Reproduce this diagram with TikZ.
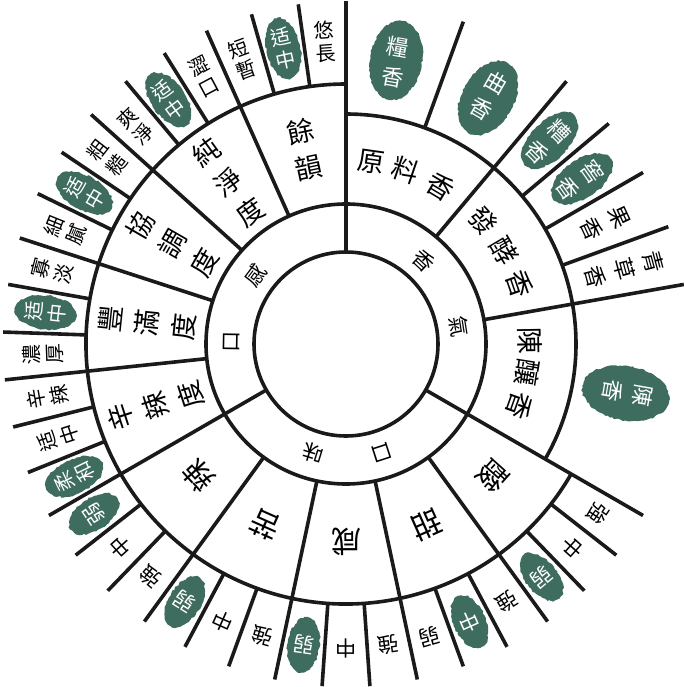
\documentclass[tikz,border=0pt]{standalone}
\usepackage{fontspec}
\usepackage{tikz}
\usetikzlibrary{decorations.pathmorphing}
\newfontfamily\cjk{Noto Sans CJK TC}
\definecolor{inkgreen}{RGB}{62,108,94}
\definecolor{inkline}{RGB}{26,26,26}

\begin{document}
\begin{tikzpicture}[
    x=1pt, y=1pt,
    ring/.style={draw=inkline, line width=3.6pt},
    spoke/.style={draw=inkline, line width=3.6pt},
    blob/.style={fill=inkgreen, decorate, decoration={random steps, segment length=2.5pt, amplitude=0.9pt}},
    core/.style={font=\cjk\fontsize{21}{21}\selectfont, inner sep=0pt},
    branch/.style={font=\cjk\fontsize{27}{37}\selectfont, inner sep=0pt, align=center},
    taste/.style={font=\cjk\fontsize{30}{30}\selectfont, inner sep=0pt},
    leaf/.style={font=\cjk\fontsize{20}{23}\selectfont, inner sep=0pt, align=center},
    bigleaf/.style={font=\cjk\fontsize{22}{30}\selectfont, inner sep=0pt, align=center},
    tip/.style={font=\cjk\fontsize{21}{21}\selectfont, inner sep=0pt}
]
    \useasboundingbox (-346,-343) rectangle (338,344);

    % Rings
    \draw[ring] (0,0) circle (92);
    \draw[ring] (0,0) circle (140);
    \draw[ring] (90:230) arc[start angle=90, end angle=-30, radius=230];
    \draw[ring] (-30:260) arc[start angle=-30, end angle=-270, radius=260];

    % Spokes
    \foreach \a in {90,-30,210} \draw[spoke] (\a:92) -- (\a:343);
    \foreach \a in {50,10,114,138,162,186,-54,-78,-102,-126} \draw[spoke] (\a:140) -- (\a:343);
    \foreach \a in {70,40,30,20} \draw[spoke] (\a:230) -- (\a:343);
    \foreach \a in {98,106,122,130,146,154,170,178,194,202,-38,-46,-62,-70,-86,-94,-110,-118,-134,-142}
        \draw[spoke] (\a:260) -- (\a:343);

    % Green marks
    \foreach \a/\r/\u/\v in {80/288/40/26, 60/284/40/26, 45/288/35/19, 35/288/35/19, -10/284/44/27}
        \fill[blob, shift={(\a:\r)}, rotate=\a] (0,0) ellipse (\u pt and \v pt);
    \foreach \a in {102,126,150,174,206}
        \fill[blob, shift={(\a:302)}, rotate=\a] (0,0) ellipse (31pt and 17pt);
    \foreach \a in {-146,-122,-98,-66,-50}
        \fill[blob, shift={(\a:304)}, rotate=\a] (0,0) ellipse (28pt and 16pt);

    % Inner ring
    \node[core, rotate=-43] (xiang) at (47:114) {香};
    \node[core, rotate=-81] (qi) at (9:114) {氣};
    \node[core, rotate=89] (kou) at (179:114) {口};
    \node[core, rotate=53] (gan) at (143:114) {感};
    \node[core, rotate=-162] (kouw) at (-72:114) {口};
    \node[core, rotate=-197] (wei) at (-107:114) {味};

    % Aroma branches
    \foreach \a/\c [count=\i] in {82/原,71/料,59/香,42/發,30.5/酵,19/香,1/陳,-9/釀,-19.5/香}
        \node[branch, rotate=\a-90] (aroma\i) at (\a:184) {\c};

    % Taste branches
    \foreach \a/\c [count=\i] in {-42/酸,-66/甜,-90/咸,-114/苦,-138/辣}
        \node[taste, rotate=\a-90] (taste\i) at (\a:198) {\c};

    % Mouthfeel branches
    \node[branch, rotate=12] (yuyun) at (102:199) {餘\\韻};
    \node[branch, rotate=36] (chun) at (126:200) {純\\淨\\度};
    \node[branch, rotate=60] (xie) at (150:200) {協\\調\\度};
    \node[branch, rotate=84] (feng) at (174:200) {豐\\滿\\度};
    \node[branch, rotate=108] (xin) at (198:200) {辛\\辣\\度};

    % Aroma leaves
    \foreach \a/\u/\v [count=\i] in {80/糧/香,60/曲/香,45/糟/香,35/窖/香,-10/陳/香}
        \node[bigleaf, text=white, rotate=\a-90] (noteh\i) at (\a:286) {\u\\\v};
    \node[bigleaf, rotate=-65] (note1) at (25:286) {果\\香};
    \node[bigleaf, rotate=-75] (note2) at (15:288) {青\\草\\香};

    % Mouthfeel leaves
    \foreach \a/\u/\v [count=\i] in {94/悠/長,110/短/暫,118/澀/口,134/爽/淨,142/粗/糙,158/細/膩,166/寡/淡,182/濃/厚,190/辛/辣,198/适/中}
        \node[leaf, rotate=\a-90] (feel\i) at (\a:303) {\u\\\v};
    \foreach \a/\u/\v [count=\i] in {102/适/中,126/适/中,150/适/中,174/适/中,206/柔/和}
        \node[leaf, text=white, rotate=\a-90] (feelh\i) at (\a:302) {\u\\\v};

    % Taste leaves
    \foreach \a/\c [count=\i] in {-138/中,-130/強,-114/中,-106/強,-90/中,-82/強,-74/弱,-58/強,-42/中,-34/強}
        \node[tip, rotate=\a-90] (level\i) at (\a:304) {\c};
    \foreach \a/\c [count=\i] in {-146/弱,-122/弱,-98/弱,-66/中,-50/弱}
        \node[tip, text=white, rotate=\a-90] (levelh\i) at (\a:304) {\c};
\end{tikzpicture}
\end{document}
